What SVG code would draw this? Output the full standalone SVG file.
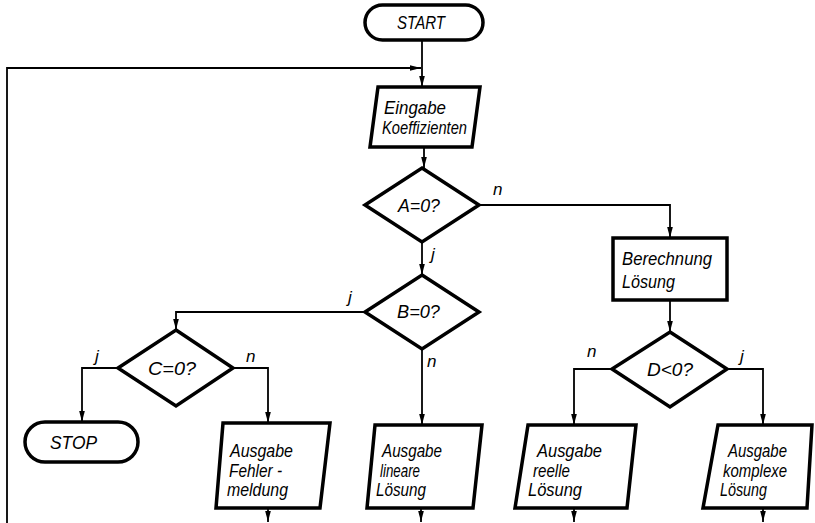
<svg xmlns="http://www.w3.org/2000/svg" width="815" height="523" viewBox="0 0 815 523">
<defs>
<marker id="ah" markerUnits="userSpaceOnUse" markerWidth="12" markerHeight="8" refX="11" refY="4" orient="auto">
<path d="M0,1.2 L11,4 L0,6.8 Z" fill="#000"/>
</marker>
<style>
.shape{fill:#fff;stroke:#000;stroke-width:3.5;stroke-linejoin:miter}
.conn{fill:none;stroke:#000;stroke-width:1.8}
.t{font-family:"Liberation Sans",Arial,sans-serif;font-style:italic;font-size:18px;fill:#000}
.l{font-family:"Liberation Sans",Arial,sans-serif;font-style:italic;font-size:17px;fill:#000}
</style>
</defs>
<rect width="815" height="523" fill="#fff"/>
<g id="connectors">
<path class="conn" d="M7,523 L7,68 L421,68" marker-end="url(#ah)"/>
<path class="conn" d="M422,40 L422,87" marker-end="url(#ah)"/>
<path class="conn" d="M424,147 L424,168" marker-end="url(#ah)"/>
<path class="conn" d="M480,205 L670,205 L670,238" marker-end="url(#ah)"/>
<path class="conn" d="M670,300 L670,332" marker-end="url(#ah)"/>
<path class="conn" d="M422,242 L422,275" marker-end="url(#ah)"/>
<path class="conn" d="M365,312 L176,312 L176,330" marker-end="url(#ah)"/>
<path class="conn" d="M118,368 L82,368 L82,422" marker-end="url(#ah)"/>
<path class="conn" d="M233,368 L268,368 L268,423" marker-end="url(#ah)"/>
<path class="conn" d="M422,349 L422,425" marker-end="url(#ah)"/>
<path class="conn" d="M612,369 L574,369 L574,425" marker-end="url(#ah)"/>
<path class="conn" d="M727,369 L763,369 L763,425" marker-end="url(#ah)"/>
<path class="conn" d="M268,508 L268,522" marker-end="url(#ah)"/>
<path class="conn" d="M421,508 L421,522" marker-end="url(#ah)"/>
<path class="conn" d="M574,508 L574,522" marker-end="url(#ah)"/>
<path class="conn" d="M763,508 L763,522" marker-end="url(#ah)"/>
<text class="l" x="493" y="195">n</text>
<text class="l" x="431" y="260">j</text>
<text class="l" x="348" y="303">j</text>
<text class="l" x="427" y="367">n</text>
<text class="l" x="95" y="362">j</text>
<text class="l" x="246" y="362">n</text>
<text class="l" x="587" y="357">n</text>
<text class="l" x="740" y="362">j</text>
</g>
<g id="start">
<rect class="shape" x="365" y="5" width="118" height="35" rx="17.5"/>
<text class="t" x="397" y="29" textLength="48" lengthAdjust="spacingAndGlyphs">START</text>
</g>
<g id="eingabe">
<polygon class="shape" points="378,87 480,87 472,147 370,147"/>
<text class="t" x="384" y="114" textLength="62" lengthAdjust="spacingAndGlyphs">Eingabe</text>
<text class="t" x="382" y="134" textLength="85" lengthAdjust="spacingAndGlyphs">Koeffizienten</text>
</g>
<g id="a0">
<polygon class="shape" points="422,168 479,205 422,242 365,205"/>
<text class="t" x="398" y="212" textLength="42" lengthAdjust="spacingAndGlyphs">A=0?</text>
</g>
<g id="berechnung">
<rect class="shape" x="613" y="238" width="114" height="62"/>
<text class="t" x="622" y="265" textLength="90" lengthAdjust="spacingAndGlyphs">Berechnung</text>
<text class="t" x="622" y="288" textLength="53" lengthAdjust="spacingAndGlyphs">Lösung</text>
</g>
<g id="b0">
<polygon class="shape" points="422,275 479,312 422,349 365,312"/>
<text class="t" x="397" y="318" textLength="43" lengthAdjust="spacingAndGlyphs">B=0?</text>
</g>
<g id="c0">
<polygon class="shape" points="176,330 233,368 176,406 118,368"/>
<text class="t" x="148" y="375" textLength="48" lengthAdjust="spacingAndGlyphs">C=0?</text>
</g>
<g id="d0">
<polygon class="shape" points="670,332 727,369 670,407 612,369"/>
<text class="t" x="647" y="376" textLength="46" lengthAdjust="spacingAndGlyphs">D&lt;0?</text>
</g>
<g id="stop">
<rect class="shape" x="25" y="422" width="113" height="40" rx="20"/>
<text class="t" x="50" y="449" textLength="47" lengthAdjust="spacingAndGlyphs">STOP</text>
</g>
<g id="fehler">
<polygon class="shape" points="223,423 330,423 320,508 216,508"/>
<text class="t" x="230" y="457" textLength="63" lengthAdjust="spacingAndGlyphs">Ausgabe</text>
<text class="t" x="229" y="477" textLength="53" lengthAdjust="spacingAndGlyphs">Fehler -</text>
<text class="t" x="227" y="496" textLength="61" lengthAdjust="spacingAndGlyphs">meldung</text>
</g>
<g id="lineare">
<polygon class="shape" points="375,425 482,425 473,508 367,508"/>
<text class="t" x="382" y="457" textLength="60" lengthAdjust="spacingAndGlyphs">Ausgabe</text>
<text class="t" x="380" y="477" textLength="40" lengthAdjust="spacingAndGlyphs">lineare</text>
<text class="t" x="376" y="496" textLength="50" lengthAdjust="spacingAndGlyphs">Lösung</text>
</g>
<g id="reelle">
<polygon class="shape" points="528,425 636,425 627,508 515,508"/>
<text class="t" x="537" y="457" textLength="65" lengthAdjust="spacingAndGlyphs">Ausgabe</text>
<text class="t" x="533" y="477" textLength="37" lengthAdjust="spacingAndGlyphs">reelle</text>
<text class="t" x="528" y="496" textLength="54" lengthAdjust="spacingAndGlyphs">Lösung</text>
</g>
<g id="komplexe">
<polygon class="shape" points="718,425 812,425 807,508 703,508"/>
<text class="t" x="728" y="457" textLength="59" lengthAdjust="spacingAndGlyphs">Ausgabe</text>
<text class="t" x="723" y="477" textLength="64" lengthAdjust="spacingAndGlyphs">komplexe</text>
<text class="t" x="720" y="496" textLength="47" lengthAdjust="spacingAndGlyphs">Lösung</text>
</g>
</svg>
